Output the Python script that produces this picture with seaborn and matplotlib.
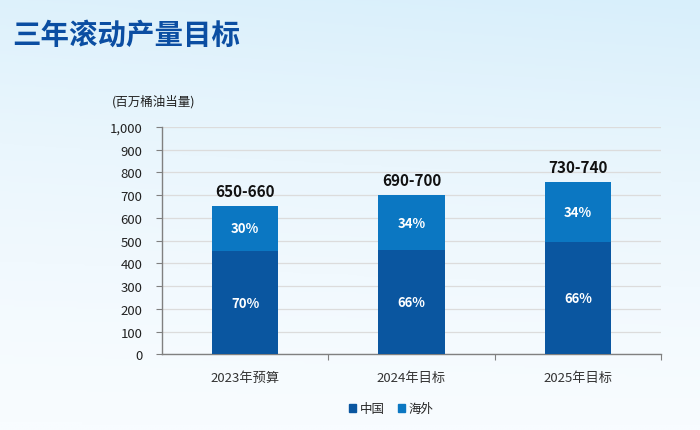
import numpy as np
import pandas as pd
import seaborn as sns
import matplotlib.pyplot as plt
from matplotlib.patches import Patch
from matplotlib.colors import LinearSegmentedColormap

# -------------------------
# dados
# -------------------------
categorias = ['2023年预算', '2024年目标', '2025年目标']
china = [455, 458, 495]
exterior = [198, 242, 261]
faixas = ['650-660', '690-700', '730-740']
pct_china = ['70%', '66%', '66%']
pct_exterior = ['30%', '34%', '34%']

cor_china = '#0a56a0'
cor_exterior = '#0b77c2'

df = pd.DataFrame({'categoria': categorias, 'china': china, 'exterior': exterior})
df['total'] = df['china'] + df['exterior']

sns.set_theme(style='white')
plt.rcParams['font.family'] = ['Noto Sans CJK SC', 'DejaVu Sans']

fig = plt.figure(figsize=(7, 4.31), dpi=100)

# fundo em gradiente
bg = fig.add_axes([0, 0, 1, 1], zorder=-10)
cmap = LinearSegmentedColormap.from_list('bg', ['#f8fcff', '#eaf6fd', '#d8effb'])
gy = np.linspace(0, 1, 200)[:, None]
gx = np.linspace(0, 1, 200)[None, :]
grad = np.clip(gy ** 1.3 * 0.85 + gx * 0.15 * gy, 0, 1)
bg.imshow(grad, cmap=cmap, aspect='auto', origin='lower', extent=[0, 1, 0, 1])
bg.axis('off')

ax = fig.add_axes([0.2314, 0.1756, 0.7129, 0.528])
ax.set_facecolor('none')

sns.barplot(data=df, x='categoria', y='total', color=cor_exterior, width=0.4,
            saturation=1, ax=ax, zorder=3, linewidth=0)
sns.barplot(data=df, x='categoria', y='china', color=cor_china, width=0.4,
            saturation=1, ax=ax, zorder=3, linewidth=0)

ax.set_ylim(0, 1000)
ax.set_xlim(-0.5, 2.5)
ax.set_yticks(range(0, 1001, 100))
ax.set_yticklabels([f'{v:,}' for v in range(0, 1001, 100)], fontsize=9.5, color='#222222')
ax.set_xticks(range(3))
ax.set_xticklabels(categorias, fontsize=9.5, color='#333333')
ax.set_xticks([0.5, 1.5, 2.5], minor=True)
ax.tick_params(axis='x', which='major', length=0, pad=12)
ax.tick_params(axis='x', which='minor', length=4, width=0.8, color='#808080', direction='out', bottom=True)
ax.tick_params(axis='y', length=4, width=0.8, color='#808080', direction='out', left=True, pad=10)
ax.set_xlabel('')
ax.set_ylabel('')

ax.yaxis.grid(True, color='#dcdcdc', linewidth=0.9, zorder=0)
ax.set_axisbelow(True)
for lado in ['top', 'right']:
    ax.spines[lado].set_visible(False)
for lado in ['left', 'bottom']:
    ax.spines[lado].set_color('#808080')
    ax.spines[lado].set_linewidth(1.0)

# rótulos
for i in range(len(categorias)):
    tot = df['total'][i]
    ax.annotate(faixas[i], (i, tot), xytext=(0, 5), textcoords='offset points',
                ha='center', va='bottom', fontsize=11, fontweight='bold', color='#111111')
    ax.text(i, china[i] / 2, pct_china[i], ha='center', va='center',
            fontsize=9.5, fontweight='bold', color='white', zorder=5)
    ax.text(i, china[i] + exterior[i] / 2, pct_exterior[i], ha='center', va='center',
            fontsize=9.5, fontweight='bold', color='white', zorder=5)

fig.text(0.017, 0.918, '三年滚动产量目标', fontsize=20.5, fontweight='heavy',
         color='#0b4ea2', ha='left', va='center')
fig.text(0.16, 0.7627, '(百万桶油当量)', fontsize=9, color='#222222', ha='left', va='center')

handles = [Patch(color=cor_china, label='中国'), Patch(color=cor_exterior, label='海外')]
fig.legend(handles=handles, loc='center', bbox_to_anchor=(0.559, 0.049), ncol=2,
           frameon=False, fontsize=9, handlelength=0.6, handleheight=0.6,
           handletextpad=0.3, columnspacing=1.0)

plt.savefig('out.png', dpi=100)
